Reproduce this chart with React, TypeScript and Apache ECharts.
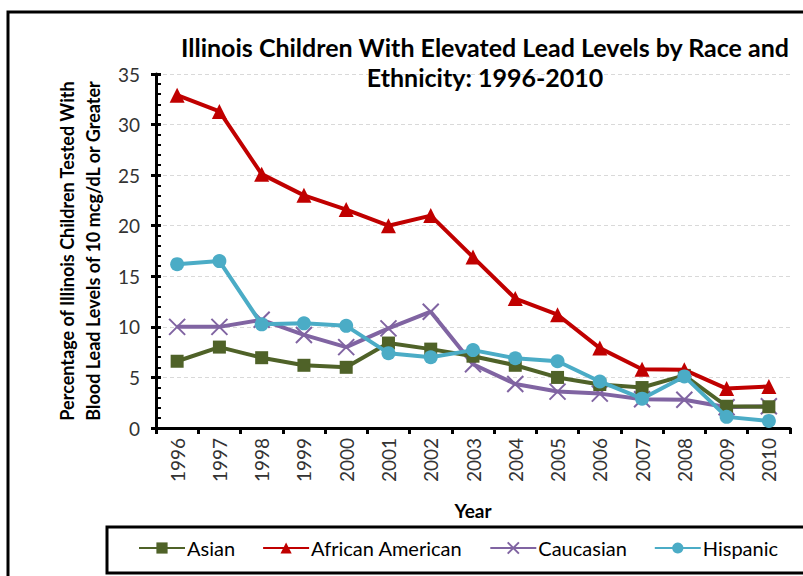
import React, { useEffect, useRef } from "react";
import * as echarts from "echarts";

const years = ["1996","1997","1998","1999","2000","2001","2002","2003","2004","2005","2006","2007","2008","2009","2010"];
const asian = [6.6, 8.0, 6.95, 6.2, 6.0, 8.4, 7.8, 7.1, 6.2, 5.0, 4.3, 4.0, 5.2, 2.15, 2.1];
const africanAmerican = [32.9, 31.3, 25.1, 23.0, 21.6, 20.0, 21.0, 16.9, 12.8, 11.2, 7.9, 5.8, 5.75, 3.9, 4.1];
const caucasian = [10.0, 10.0, 10.7, 9.2, 8.0, 9.85, 11.5, 6.3, 4.35, 3.6, 3.4, 2.85, 2.8, 2.05, 2.15];
const hispanic = [16.2, 16.5, 10.25, 10.35, 10.1, 7.4, 7.0, 7.7, 6.9, 6.6, 4.6, 2.9, 5.1, 1.1, 0.7];

const FONT = "Lato";

export default function App() {
  const ref = useRef<HTMLDivElement>(null);
  useEffect(() => {
    if (!ref.current) return;
    const chart = echarts.init(ref.current, null, { renderer: "svg" });
    const mk = (name: string, data: number[], color: string, symbol: string, size: number, z: number) => ({
      name,
      type: "line",
      data,
      symbol,
      symbolSize: size,
      lineStyle: { color, width: 4 },
      itemStyle: { color },
      z,
    });
    chart.setOption({
      animation: false,
      backgroundColor: "#fff",
      textStyle: { fontFamily: FONT },
      title: {
        text: "Illinois Children With Elevated Lead Levels by Race and\nEthnicity: 1996-2010",
        left: 480,
        top: 27,
        textAlign: "center",
        textStyle: { fontFamily: FONT, fontWeight: "bold", fontSize: 25, lineHeight: 30, color: "#000" },
      },
      legend: {
        bottom: 13,
        left: 133,
        itemWidth: 46,
        itemHeight: 14,
        itemGap: 27,
        textStyle: { fontFamily: FONT, fontSize: 20, color: "#000", padding: [0, 0, 0, -3] },
        data: ["Asian", "African American", "Caucasian", "Hispanic"],
      },
      grid: { left: 156, right: 13, top: 74, bottom: 148 },
      xAxis: {
        type: "category",
        data: years,
        boundaryGap: true,
        name: "Year",
        nameLocation: "middle",
        nameGap: 73,
        nameTextStyle: { fontFamily: FONT, fontWeight: "bold", fontSize: 19, color: "#000" },
        axisLine: { lineStyle: { color: "#000", width: 3 } },
        axisTick: { show: true, length: 6, lineStyle: { color: "#000", width: 3 } },
        axisLabel: { rotate: 90, fontSize: 19, color: "#333", margin: 10 },
      },
      yAxis: [
        {
          type: "value",
          min: 0,
          max: 35,
          interval: 5,
          name: "Percentage of Illinois Children Tested With\nBlood Lead Levels of 10 mcg/dL or Greater",
          nameLocation: "middle",
          nameGap: 50,
          nameTextStyle: { fontFamily: FONT, fontWeight: "bold", fontSize: 18, lineHeight: 26, color: "#000" },
          axisLine: { show: true, lineStyle: { color: "#000", width: 3 } },
          axisTick: { show: true, length: 5, lineStyle: { color: "#000", width: 3 } },
          axisLabel: { fontSize: 19, color: "#333", margin: 16 },
          splitLine: { show: true, lineStyle: { color: "#d9d9d9", type: [4, 3], width: 1 } },
        },
        {
          type: "value",
          min: 0,
          max: 35,
          interval: 5,
          position: "left",
          axisLine: { show: false },
          axisTick: { show: true, inside: true, length: 5, lineStyle: { color: "#000", width: 3 } },
          minorTick: { show: true, splitNumber: 5, length: 5, lineStyle: { color: "#000", width: 2 } },
          axisLabel: { show: false },
          splitLine: { show: false },
        },
      ],
      series: [
        mk("Asian", asian, "#4F6228", "rect", 13, 3),
        mk("African American", africanAmerican, "#C00000", "triangle", 15, 4),
        {
          name: "Caucasian",
          type: "line",
          data: caucasian,
          symbol: "path://M0,0L10,10M10,0L0,10",
          symbolSize: 16,
          lineStyle: { color: "#8064A2", width: 4 },
          itemStyle: { color: "#8064A2", borderColor: "#8064A2", borderWidth: 2 },
          z: 2,
        },
        mk("Hispanic", hispanic, "#4BACC6", "circle", 14, 5),
      ],
      graphic: [
        {
          type: "rect",
          shape: { x: 8, y: 12, width: 900, height: 700 },
          style: { fill: "none", stroke: "#000", lineWidth: 3 },
          silent: true,
        },
        {
          type: "rect",
          shape: { x: 107, y: 527, width: 800, height: 46 },
          style: { fill: "none", stroke: "#000", lineWidth: 3 },
          silent: true,
        },
      ],
    });
    return () => chart.dispose();
  }, []);
  return <div ref={ref} style={{ position: "fixed", left: 0, top: 0, width: 803, height: 576 }} />;
}
